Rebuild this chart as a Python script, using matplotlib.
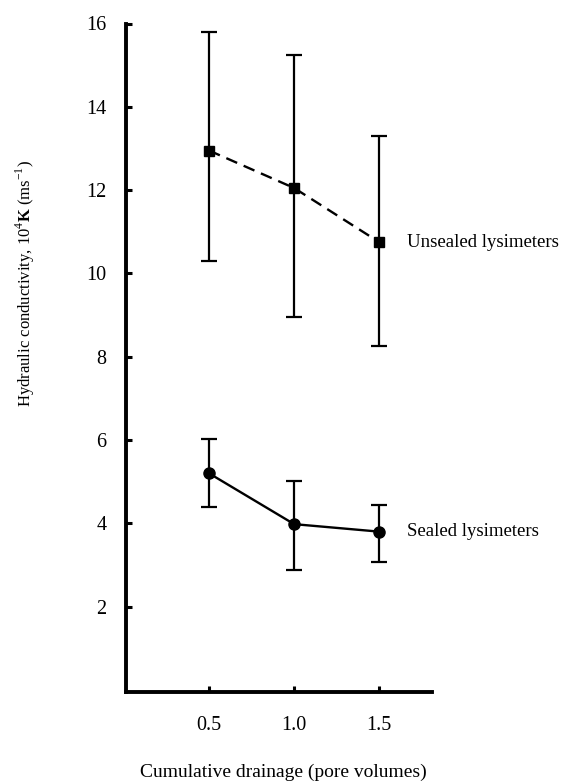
import matplotlib
matplotlib.use("Agg")
import matplotlib.pyplot as plt

plt.rcParams['font.family'] = ['Liberation Serif', 'DejaVu Serif']
plt.rcParams['mathtext.fontset'] = 'custom'
plt.rcParams['mathtext.rm'] = 'Liberation Serif'
plt.rcParams['mathtext.bf'] = 'Liberation Serif:bold'

x = [0.5, 1.0, 1.5]
unsealed = [12.95, 12.05, 10.75]
unsealed_hi = [15.8, 15.25, 13.3]
unsealed_lo = [10.3, 8.95, 8.25]
sealed = [5.2, 3.98, 3.8]
sealed_hi = [6.02, 5.02, 4.45]
sealed_lo = [4.38, 2.88, 3.08]
xticks = [0.5, 1.0, 1.5]
xticklabels = ["0.5", "1.0", "1.5"]
yticks = [2, 4, 6, 8, 10, 12, 14, 16]

W, H = 566, 784
fig = plt.figure(figsize=(W / 100, H / 100), dpi=100)
ax = fig.add_axes([126 / W, 1 - 692 / H, (432 - 126) / W, (692 - 23.5) / H])
ax.set_xlim(0.012, 1.81)
ax.set_ylim(-0.05, 16)

def err(v, hi, lo):
    return [[a - b for a, b in zip(v, lo)], [b - a for a, b in zip(v, hi)]]

ax.errorbar(x, unsealed, yerr=err(unsealed, unsealed_hi, unsealed_lo), fmt='none',
            ecolor='black', elinewidth=1.6, capsize=5.5, capthick=1.6)
ax.plot(x, unsealed, color='black', lw=1.7, dashes=(5, 3), marker='s', markersize=6.5)
ax.errorbar(x, sealed, yerr=err(sealed, sealed_hi, sealed_lo), fmt='none',
            ecolor='black', elinewidth=1.6, capsize=5.5, capthick=1.6)
ax.plot(x, sealed, color='black', lw=1.7, marker='o', markersize=8)

ax.text(1.665, unsealed[-1], "Unsealed lysimeters", fontsize=13.5, va='center', ha='left')
ax.text(1.665, sealed[-1], "Sealed lysimeters", fontsize=13.5, va='center', ha='left')

for s in ['top', 'right']:
    ax.spines[s].set_visible(False)
for s in ['left', 'bottom']:
    ax.spines[s].set_linewidth(2.8)

ax.set_xticks(xticks)
ax.set_xticklabels(xticklabels)
ax.set_yticks(yticks)
ax.set_yticklabels([str(v) for v in yticks])
ax.tick_params(axis='both', direction='in', length=4, width=2.2, labelsize=14.5)
ax.tick_params(axis='y', pad=14)
ax.tick_params(axis='x', pad=17)

fig.text(283 / W, 1 - 772 / H, "Cumulative drainage (pore volumes)", fontsize=14,
         ha='center', va='center')
fig.text(25 / W, 1 - 283 / H, r"Hydraulic conductivity, 10$^{4}$$\mathbf{K}$ (ms$^{-1}$)",
         fontsize=12, rotation=90, ha='center', va='center')

fig.savefig("out.png", dpi=100)
